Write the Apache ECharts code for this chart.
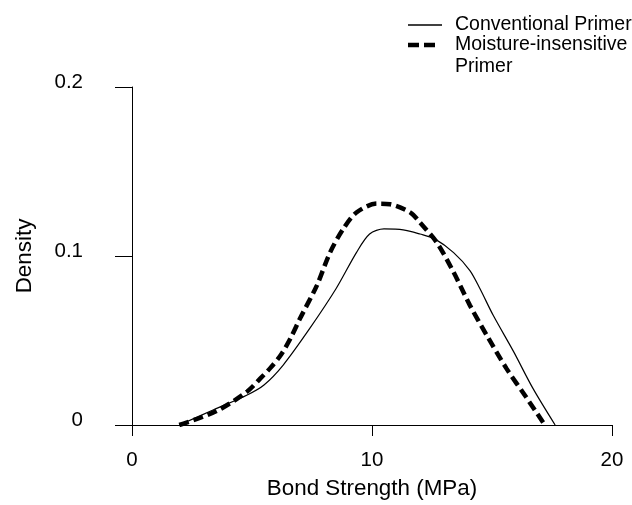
<!DOCTYPE html>
<html>
<head>
<meta charset="utf-8">
<script src="https://cdn.jsdelivr.net/npm/echarts@6/dist/echarts.min.js"></script>
<style>
  html, body { margin: 0; padding: 0; background: #fff; }
  #container { width: 632px; height: 505px; }
</style>
</head>
<body>
<div id="container"></div>
<script>
var dom = document.getElementById('container');
var myChart = echarts.init(dom, null, { renderer: 'canvas' });

// bond strength (MPa) vs density
const conventionalX = [1.97, 3.4, 4.8, 5.5, 6.3, 7.4, 8.5, 9.35, 9.9, 10.5, 11.3, 12.0, 12.63, 13.4, 14.08, 14.5, 15.05, 15.9, 16.7, 17.63];
const conventionalY = [0, 0.009, 0.0178, 0.0237, 0.0355, 0.057, 0.0806, 0.102, 0.113, 0.116, 0.1155, 0.113, 0.110, 0.102, 0.0914, 0.0806, 0.0649, 0.0434, 0.0218, 0];
const moistureX = [1.97, 3.5, 4.8, 5.35, 5.75, 6.2, 6.6, 7.0, 7.7, 8.25, 8.8, 9.35, 10.2, 10.75, 11.6, 12.0, 12.7, 13.4, 14.08, 14.78, 15.6, 16.45, 17.2];
const moistureY = [0, 0.0081, 0.0198, 0.0276, 0.0335, 0.0414, 0.0512, 0.063, 0.0825, 0.102, 0.116, 0.1257, 0.131, 0.1306, 0.1257, 0.1198, 0.108, 0.0904, 0.0708, 0.0531, 0.0335, 0.0159, 0];
const seriesNames = ['Conventional Primer', 'Moisture-insensitive\nPrimer'];
const xTicks = [0, 10, 20];
const yTicks = [0, 0.1, 0.2];

function pairs(xs, ys) {
    return xs.map((x, i) => [x, ys[i]]);
}

const font = 'Arial, "Liberation Sans", Helvetica, sans-serif';

var option = {
    backgroundColor: '#fff',
    animation: false,
    grid: { left: 132, right: 20, top: 87, bottom: 78 },
    legend: [
        {
            data: [{ name: seriesNames[0], icon: 'path://M0,0H34V1.3H0Z' }],
            left: 403, top: 10,
            itemWidth: 34, itemHeight: 1.3, itemGap: 0,
            symbolKeepAspect: false,
            textStyle: { fontFamily: font, fontSize: 19.5, color: '#000', padding: [0, 0, 0, 8] }
        },
        {
            // leading blank line keeps the icon level with the first text line
            data: [{ name: seriesNames[1], icon: 'path://M0,0H11V4.5H0ZM16,0H27V4.5H16Z' }],
            formatter: name => '\n' + name,
            left: 403, top: 7,
            itemWidth: 27, itemHeight: 4.5, itemGap: 0,
            symbolKeepAspect: false,
            textStyle: { fontFamily: font, fontSize: 19.5, color: '#000', lineHeight: 22, padding: [0, 0, 0, 15] }
        }
    ],
    xAxis: {
        type: 'value',
        min: 0, max: 20, interval: 10,
        offset: 5,
        name: 'Bond Strength (MPa)',
        nameLocation: 'middle',
        nameGap: 48,
        nameTextStyle: { fontFamily: font, fontSize: 22.4, color: '#000' },
        axisLine: { lineStyle: { color: '#000', width: 1 } },
        axisTick: { length: 11, lineStyle: { color: '#000' } },
        axisLabel: {
            fontFamily: font, fontSize: 20.5, color: '#000', margin: 20,
            formatter: v => xTicks.includes(v) ? String(v) : ''
        },
        splitLine: { show: false }
    },
    yAxis: {
        type: 'value',
        min: 0, max: 0.2, interval: 0.1,
        offset: 8,
        name: 'Density',
        nameLocation: 'middle',
        nameGap: 88,
        nameTextStyle: { fontFamily: font, fontSize: 22.4, color: '#000' },
        axisLine: { show: true, lineStyle: { color: '#000', width: 1 } },
        axisTick: { show: true, length: 17, lineStyle: { color: '#000' } },
        axisLabel: {
            fontFamily: font, fontSize: 20.5, color: '#000', margin: 41,
            verticalAlign: 'bottom', lineHeight: 10,
            formatter: v => {
                const t = yTicks.find(y => Math.abs(y - v) < 1e-9);
                return t === undefined ? '' : String(t);
            }
        },
        splitLine: { show: false }
    },
    series: [
        {
            name: seriesNames[0],
            type: 'line',
            data: pairs(conventionalX, conventionalY),
            smooth: 0.3,
            symbol: 'none',
            lineStyle: { color: '#000', width: 1.2, type: 'solid' },
            itemStyle: { color: '#000' }
        },
        {
            name: seriesNames[1],
            type: 'line',
            data: pairs(moistureX, moistureY),
            smooth: 0.3,
            symbol: 'none',
            lineStyle: { color: '#000', width: 4.5, type: [10, 5] },
            itemStyle: { color: '#000' }
        }
    ]
};

myChart.setOption(option);
window.addEventListener('resize', myChart.resize);
</script>
</body>
</html>
